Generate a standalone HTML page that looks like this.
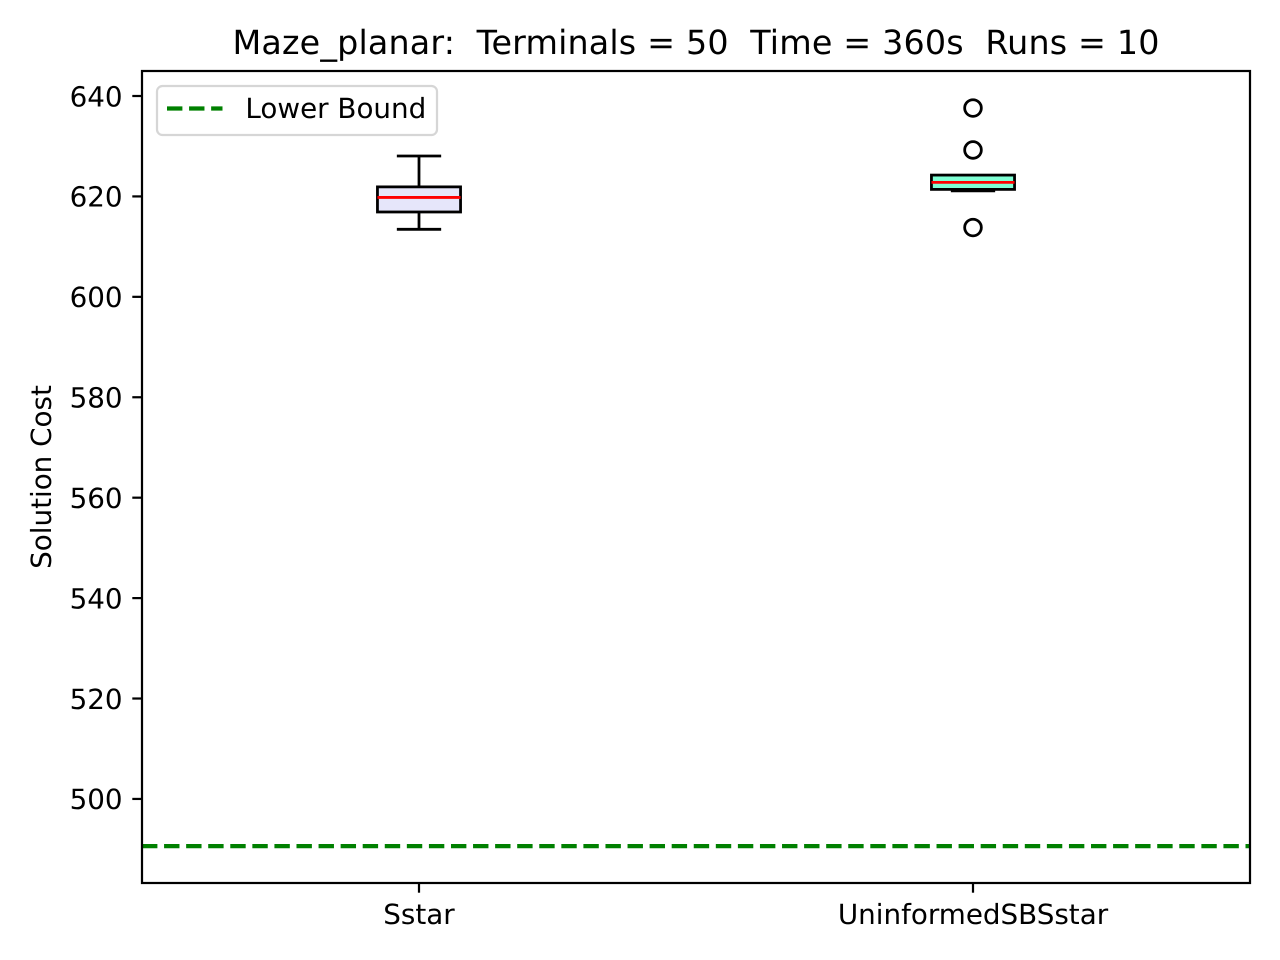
<!DOCTYPE html>
<html lang="en">
<head>
<meta charset="utf-8">
<title>Maze_planar box plot</title>
<style>
  html, body { margin: 0; padding: 0; background: #fff; }
  svg { display: block; }
  text { font-family: "DejaVu Sans", "Liberation Sans", sans-serif; fill: #000; text-rendering: geometricPrecision; }
</style>
</head>
<body>
<svg id="chart" xmlns="http://www.w3.org/2000/svg" width="1280" height="960" viewBox="0 0 1280 960">
  <rect width="1280" height="960" fill="#fff"/>
  <text x="232.5" y="54" font-size="33.33" textLength="927" lengthAdjust="spacing" xml:space="preserve">Maze_planar:  Terminals = 50  Time = 360s  Runs = 10</text>
  <text transform="translate(51 477) rotate(-90)" font-size="27.78" text-anchor="middle">Solution Cost</text>
  <g id="marks"></g>
  <rect x="142" y="71" width="1108" height="812" fill="none" stroke="#000" stroke-width="2.22"/>
  <g id="ticks"></g>
  <g>
    <rect x="157" y="86" width="280" height="49" rx="5.5" fill="#fff" fill-opacity="0.8" stroke="#d6d6d6" stroke-width="2.22"/>
    <line x1="167" y1="108.5" x2="222.5" y2="108.5" stroke="#008000" stroke-width="4.17" stroke-dasharray="15.4 6.67"/>
    <text x="245.4" y="118" font-size="27.78">Lower Bound</text>
  </g>
</svg>
<script>
const categories = ["Sstar", "UninformedSBSstar"];
const boxFills = ["#e6e6fa", "#7fffd4"];
const whiskerLow = [613.45, 621.1];
const q1 = [616.9, 621.4];
const medians = [619.8, 622.8];
const q3 = [621.9, 624.25];
const whiskerHigh = [628.05, 624.2];
const outliers = [[], [637.6, 629.25, 613.8]];
const lowerBound = 490.6;
const yTicks = [500, 520, 540, 560, 580, 600, 620, 640];

const NS = "http://www.w3.org/2000/svg";
const xScale = v => 142 + (v - 0.5) / 2 * 1108;
const yScale = v => 96 + (640 - v) * 5.021;
const marks = document.getElementById("marks");
const ticks = document.getElementById("ticks");

function make(parent, tag, attrs) {
  const el = document.createElementNS(NS, tag);
  for (const k in attrs) el.setAttribute(k, attrs[k]);
  parent.appendChild(el);
  return el;
}
const LW = 2.78;
const line = { stroke: "#000", "stroke-width": LW, fill: "none" };

categories.forEach((cat, i) => {
  const cx = xScale(i + 1);
  const boxL = xScale(i + 1 - 0.075);
  const boxR = xScale(i + 1 + 0.075);
  const capL = xScale(i + 1 - 0.04);
  const capR = xScale(i + 1 + 0.04);

  const g = make(marks, "g", {});
  
  

  const wl = make(g, "line", { x1: cx, x2: cx, y1: yScale(q1[i]), y2: yScale(whiskerLow[i]), ...line });
  
  

  const wh = make(g, "line", { x1: cx, x2: cx, y1: yScale(q3[i]), y2: yScale(whiskerHigh[i]), ...line });
  
  

  const cl = make(g, "line", { x1: capL, x2: capR, y1: yScale(whiskerLow[i]), y2: yScale(whiskerLow[i]), ...line });
  
  

  const ch = make(g, "line", { x1: capL, x2: capR, y1: yScale(whiskerHigh[i]), y2: yScale(whiskerHigh[i]), ...line });
  
  

  const box = make(g, "rect", { x: boxL, y: yScale(q3[i]), width: boxR - boxL, height: yScale(q1[i]) - yScale(q3[i]), fill: boxFills[i], stroke: "#000", "stroke-width": LW });
  
  

  const med = make(g, "line", { x1: boxL, x2: boxR, y1: yScale(medians[i]), y2: yScale(medians[i]), stroke: "#ff0000", "stroke-width": LW });
  
  

  outliers[i].forEach(v => {
    const o = make(g, "circle", { cx: cx, cy: yScale(v), r: 8.33, fill: "none", stroke: "#000", "stroke-width": LW });
    
    
  });

  const t = make(ticks, "line", { x1: cx, x2: cx, y1: 883, y2: 892.7, stroke: "#000", "stroke-width": 2.22 });
  
  

  const lab = make(ticks, "text", { x: cx, y: 924, "font-size": 27.78, "text-anchor": "middle" });
  lab.textContent = cat;
  
  
});

const bound = make(marks, "line", { x1: 142, x2: 1250, y1: yScale(lowerBound), y2: yScale(lowerBound), stroke: "#008000", "stroke-width": 4.17, "stroke-dasharray": "15.4 6.67" });



yTicks.forEach(v => {
  const y = yScale(v);
  const t = make(ticks, "line", { x1: 132.3, x2: 142, y1: y, y2: y, stroke: "#000", "stroke-width": 2.22 });
  
  

  const lab = make(ticks, "text", { x: 122.6, y: y + 10.3, "font-size": 27.78, "text-anchor": "end" });
  lab.textContent = String(v);
  
  
});
</script>
</body>
</html>
